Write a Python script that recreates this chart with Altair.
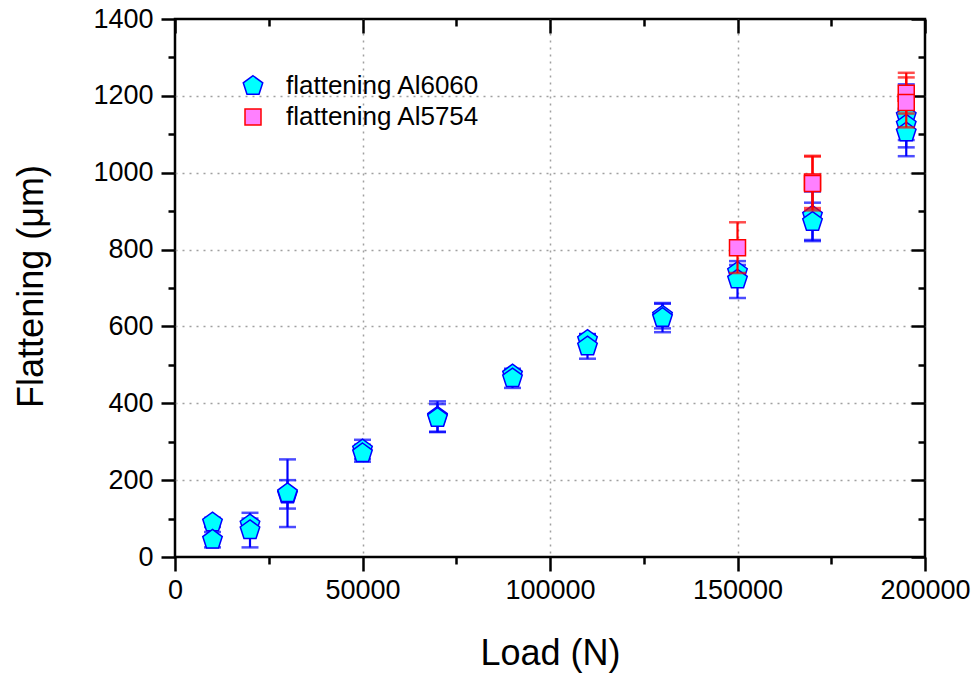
import altair as alt
import pandas as pd

series_names = ["flattening Al6060", "flattening Al5754"]

load_6060 = [10000, 10000, 20000, 20000, 30000, 30000, 50000, 50000, 70000, 70000,
             90000, 90000, 110000, 110000, 130000, 130000, 150000, 150000,
             170000, 170000, 195000, 195000, 195000]
flat_6060 = [90, 45, 85, 70, 163, 166, 280, 270, 365, 362,
             475, 465, 565, 548, 628, 622, 742, 722,
             888, 872, 1148, 1125, 1105]
err_6060 = [12, 20, 15, 45, 37, 88, 25, 22, 40, 36,
            12, 25, 15, 32, 33, 37, 18, 48,
            63, 50, 82, 40, 62]

load_5754 = [150000, 170000, 170000, 195000, 195000]
flat_5754 = [805, 976, 972, 1207, 1183]
err_5754 = [66, 68, 70, 53, 65]

x_major = [0, 50000, 100000, 150000, 200000]
x_minor = [25000, 75000, 125000, 175000]
y_major = [0, 200, 400, 600, 800, 1000, 1200, 1400]
y_minor = [100, 300, 500, 700, 900, 1100, 1300]
x_grid = [50000, 100000, 150000]
y_grid = [200, 400, 600, 800, 1000, 1200]

rows = []
for l, f, e in zip(load_6060, flat_6060, err_6060):
    rows.append({"series": series_names[0], "load": l, "flat": f, "lo": f - e, "hi": f + e})
for l, f, e in zip(load_5754, flat_5754, err_5754):
    rows.append({"series": series_names[1], "load": l, "flat": f, "lo": f - e, "hi": f + e})
df = pd.DataFrame(rows)

FONT = "Liberation Sans"
pent = "M0,-1L0.951,-0.309L0.588,0.809L-0.588,0.809L-0.951,-0.309Z"

xs = alt.Scale(domain=[0, 200000], nice=False, zero=False)
ys = alt.Scale(domain=[0, 1400], nice=False, zero=False)

base = alt.Chart(df)


def axis_layer(xaxis, yaxis):
    return base.mark_point(opacity=0).encode(
        x=alt.X("load:Q", scale=xs, axis=xaxis),
        y=alt.Y("flat:Q", scale=ys, axis=yaxis),
    )


common = dict(grid=False, domain=False, labelFlush=False, labelOverlap=False)

layer_major = axis_layer(
    alt.Axis(orient="bottom", values=x_major, tickSize=14, labelPadding=6, format="d",
             title="Load (N)", titleX=375, titleY=107, titleAlign="center",
             titleBaseline="alphabetic", **common),
    alt.Axis(orient="left", values=y_major, tickSize=14, labelPadding=8, format="d",
             title="Flattening (μm)", titleX=-144, titleY=267, titleAngle=-90,
             titleAlign="center", titleBaseline="middle", **common),
)
layer_minor = axis_layer(
    alt.Axis(orient="bottom", values=x_minor, tickSize=7, labels=False, title=None, **common),
    alt.Axis(orient="left", values=y_minor, tickSize=7, labels=False, title=None, **common),
)
layer_in_major = axis_layer(
    alt.Axis(orient="top", values=x_major, tickSize=14, offset=-14, labels=False, title=None, **common),
    alt.Axis(orient="right", values=y_major, tickSize=14, offset=-14, labels=False, title=None, **common),
)
layer_in_minor = axis_layer(
    alt.Axis(orient="top", values=x_minor, tickSize=7, offset=-7, labels=False, title=None, **common),
    alt.Axis(orient="right", values=y_minor, tickSize=7, offset=-7, labels=False, title=None, **common),
)
layer_grid = axis_layer(
    alt.Axis(orient="bottom", values=x_grid, grid=True, ticks=False, labels=False, domain=False,
             title=None, gridDash=[2, 5], gridColor="#a0a0a0", gridWidth=1.5),
    alt.Axis(orient="left", values=y_grid, grid=True, ticks=False, labels=False, domain=False,
             title=None, gridDash=[2, 5], gridColor="#a0a0a0", gridWidth=1.5),
)

leg = alt.Legend(title=None, orient="none", legendX=65, legendY=54)

X = alt.X("load:Q", scale=xs, axis=None)


def series_layers(name, bar_color):
    d = base.transform_filter(alt.datum.series == name)
    rule = d.mark_rule(strokeWidth=2.2, color=bar_color).encode(
        x=X, y=alt.Y("lo:Q", scale=ys, axis=None), y2="hi:Q")
    cap_lo = d.mark_tick(orient="horizontal", size=17, thickness=2.5, color=bar_color).encode(
        x=X, y=alt.Y("lo:Q", scale=ys, axis=None))
    cap_hi = d.mark_tick(orient="horizontal", size=17, thickness=2.5, color=bar_color).encode(
        x=X, y=alt.Y("hi:Q", scale=ys, axis=None))
    pts = d.mark_point(opacity=1, fillOpacity=1, strokeWidth=1.5).encode(
        x=X,
        y=alt.Y("flat:Q", scale=ys, axis=None),
        shape=alt.Shape("series:N", scale=alt.Scale(domain=series_names, range=[pent, "square"]), legend=leg),
        fill=alt.Fill("series:N", scale=alt.Scale(domain=series_names, range=["#00FFFF", "#FF80FF"]), legend=leg),
        stroke=alt.Stroke("series:N", scale=alt.Scale(domain=series_names, range=["#0000FF", "#FF0000"]), legend=leg),
        size=alt.Size("series:N", scale=alt.Scale(domain=series_names, range=[420, 256]), legend=leg),
    )
    return [rule, cap_lo, cap_hi, pts]


layers = [layer_grid, layer_major, layer_minor, layer_in_major, layer_in_minor]
layers += series_layers(series_names[0], "#0000FF")
layers += series_layers(series_names[1], "#FF0000")

chart = alt.layer(*layers).resolve_axis(x="independent", y="independent").properties(
    width=750,
    height=538,
    background="white",
    autosize=alt.AutoSizeParams(type="none"),
    padding={"left": 175, "top": 19, "right": 52, "bottom": 116},
).configure_view(
    stroke="black", strokeWidth=2.5
).configure_axis(
    labelFont=FONT, labelFontSize=27, labelColor="black",
    titleFont=FONT, titleFontSize=36, titleColor="black", titleFontWeight="normal",
    tickColor="black", tickWidth=2.5,
).configure_legend(
    labelFont=FONT, labelFontSize=26, labelColor="black", labelOffset=20, labelLimit=0,
    rowPadding=5, padding=0, symbolStrokeWidth=1.5,
)

chart.save("out.html", embed_options={"renderer": "svg", "actions": False})
